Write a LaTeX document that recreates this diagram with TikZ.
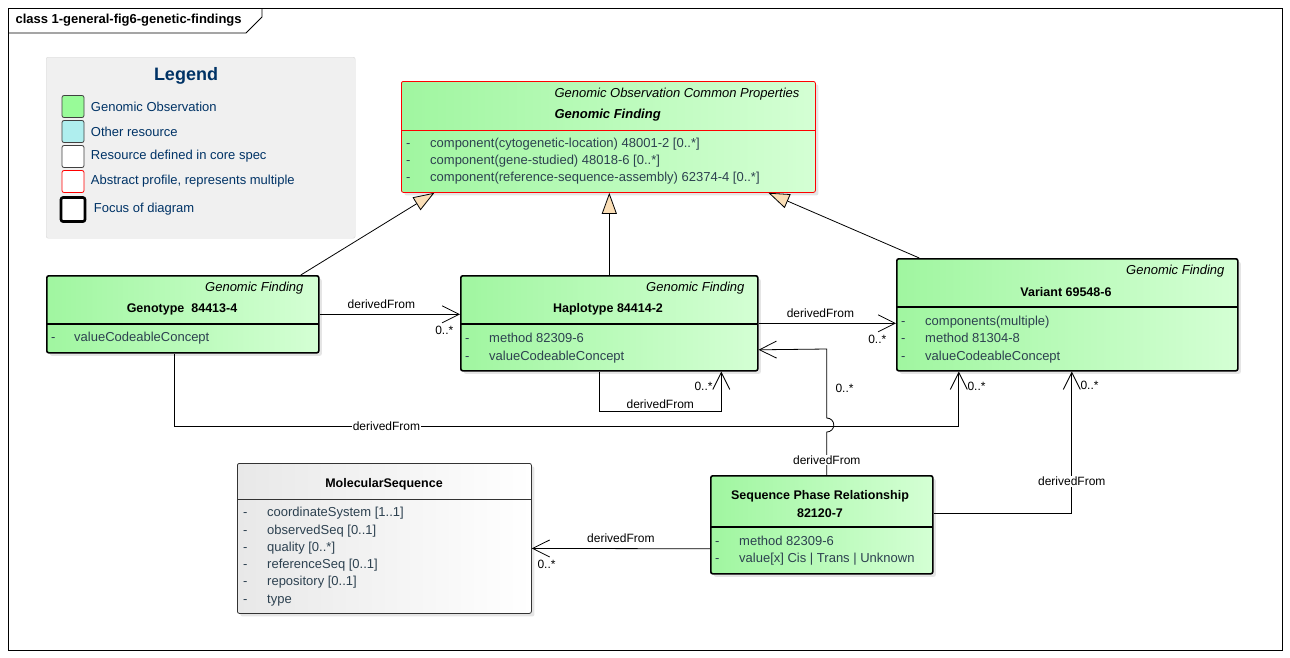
\documentclass[tikz,border=0pt]{standalone}
\usepackage{fontspec}
\setmainfont{Liberation Sans}
\usepackage{tikz}
\usetikzlibrary{arrows.meta}
\usetikzlibrary{positioning}
\usetikzlibrary{shadows}

\definecolor{findleft}{RGB}{160,246,160}
\definecolor{findright}{RGB}{212,255,212}
\definecolor{attrtext}{RGB}{45,65,80}
\definecolor{legendtext}{RGB}{0,51,102}
\definecolor{legendbg}{RGB}{240,240,240}
\definecolor{legendgreen}{RGB}{152,251,152}
\definecolor{legendcyan}{RGB}{175,238,238}
\definecolor{genfill}{RGB}{250,222,182}

\begin{document}
\begin{tikzpicture}[x=1pt,y=-1pt,font=\fontsize{12}{14}\selectfont,
        box/.style={draw,rounded corners=2pt,anchor=north west,inner sep=0pt,
            drop shadow={shadow xshift=3pt,shadow yshift=-3pt,fill=black!20}},
        finding/.style={box,line width=1.6pt,left color=findleft,right color=findright},
        stereo/.style={anchor=east,font=\fontsize{13}{15}\selectfont\itshape},
        cname/.style={font=\fontsize{12.5}{15}\selectfont\bfseries},
        attr/.style={anchor=west,inner sep=0pt,text=attrtext,text height=11.5pt,text depth=2pt,
            font=\fontsize{13}{15}\selectfont},
        derived/.style={line width=0.8pt,-{Straight Barb[length=17pt,width=17pt]}},
        general/.style={line width=0.8pt,-{Triangle[length=21pt,width=15pt,fill=genfill]}},
        legsq/.style={draw=black!75,line width=0.8pt,rounded corners=2pt,minimum size=22pt,inner sep=0pt},
        legentry/.style={text=legendtext,font=\fontsize{13}{15}\selectfont}]
    \useasboundingbox (0,0) rectangle (1290,657);
    \fill[white] (0,0) rectangle (1290,657);
    \draw[line width=0.9pt] (8,8) rectangle (1282,650);
    \draw[line width=0.9pt] (8,33) -- (246,33) -- (262,17) -- (262,8);
    \node[anchor=west,font=\fontsize{13}{15}\selectfont\bfseries] (frametitle) at (12,20) {class 1-general-fig6-genetic-findings};

    % legend
    \node[draw=black!15,fill=legendbg,rounded corners=2pt,anchor=north west,minimum width=309pt,minimum height=181pt] (legend) at (46,57) {};
    \node[text=legendtext,font=\fontsize{18}{20}\selectfont\bfseries] (legendtitle) at (186,76) {Legend};
    \foreach \f/\d/\t [count=\i] in {legendgreen/black!75/Genomic Observation,
            legendcyan/black!75/Other resource,
            white/black!75/Resource defined in core spec,
            white/red/{Abstract profile, represents multiple}} {
        \node[legsq,fill=\f,draw=\d] (leg\i) at (73,{81.5+25*\i}) {};
        \node[legentry,right=3pt of leg\i] (legtext\i) {\t};
    }
    \node[legsq,fill=white,draw=black,line width=2.6pt,minimum size=24pt] (leg5) at (73,209.5) {};
    \node[legentry,right=4pt of leg5] (legtext5) {Focus of diagram};

    % abstract profile
    \node[box,draw=red,line width=0.8pt,left color=findleft,right color=findright,minimum width=414pt,minimum height=111pt] (gfind) at (401,81) {};
    \node[anchor=west,font=\fontsize{13}{15}\selectfont\itshape] (gfstereo) at (551,94) {Genomic Observation Common Properties};
    \node[anchor=west,font=\fontsize{13}{15}\selectfont\bfseries\itshape] (gfname) at (551,115) {Genomic Finding};
    \draw[red,line width=0.8pt] (401,130) -- (815,130);
    \foreach \t [count=\i] in {component(cytogenetic-location) 48001-2 [0..*],
            component(gene-studied) 48018-6 [0..*],
            component(reference-sequence-assembly) 62374-4 [0..*]} {
        \node[attr] (gfdash\i) at (406,{126+17*\i}) {-};
        \node[attr] (gfattr\i) at (430,{126+17*\i}) {\t};
    }

    % genotype
    \node[finding,minimum width=272pt,minimum height=77pt] (geno) at (46,275) {};
    \node[stereo] (genostereo) at (307,288) {Genomic Finding};
    \node[cname] (genoname) at (182,309) {Genotype\ \ 84413-4};
    \draw[line width=1.6pt] (46,324) -- (318,324);
    \node[attr] (genodash1) at (51,337) {-};
    \node[attr] (genoattr1) at (74,337) {valueCodeableConcept};

    % haplotype
    \node[finding,minimum width=297pt,minimum height=95pt] (haplo) at (460,275) {};
    \node[stereo] (haplostereo) at (748,288) {Genomic Finding};
    \node[cname] (haploname) at (608,309) {Haplotype 84414-2};
    \draw[line width=1.6pt] (460,324) -- (757,324);
    \foreach \t [count=\i] in {method 82309-6,valueCodeableConcept} {
        \node[attr] (haplodash\i) at (465,{320+18*\i}) {-};
        \node[attr] (haploattr\i) at (489,{320+18*\i}) {\t};
    }

    % variant
    \node[finding,minimum width=341pt,minimum height=112pt] (variant) at (896,258) {};
    \node[stereo] (variantstereo) at (1228,271) {Genomic Finding};
    \node[cname] (variantname) at (1066,292) {Variant 69548-6};
    \draw[line width=1.6pt] (896,307) -- (1237,307);
    \foreach \t [count=\i] in {components(multiple),method 81304-8,valueCodeableConcept} {
        \node[attr] (variantdash\i) at (901,{303+17.5*\i}) {-};
        \node[attr] (variantattr\i) at (925,{303+17.5*\i}) {\t};
    }

    % molecular sequence
    \node[box,draw=black!80,line width=0.8pt,left color=black!9,right color=white,minimum width=294pt,minimum height=150pt] (molseq) at (237,463) {};
    \node[cname] (molseqname) at (384,484) {MolecularSequence};
    \draw[line width=0.8pt,black!80] (237,499) -- (531,499);
    \foreach \t [count=\i] in {coordinateSystem [1..1],observedSeq [0..1],quality [0..*],
            referenceSeq [0..1],repository [0..1],type} {
        \node[attr] (molseqdash\i) at (243,{494.7+17.3*\i}) {-};
        \node[attr] (molseqattr\i) at (267,{494.7+17.3*\i}) {\t};
    }

    % sequence phase relationship
    \node[finding,minimum width=222pt,minimum height=98pt] (phase) at (710,475) {};
    \node[cname] (phasename1) at (820,496) {Sequence Phase Relationship};
    \node[cname] (phasename2) at (820,513) {82120-7};
    \draw[line width=1.6pt] (710,527) -- (932,527);
    \foreach \t [count=\i] in {method 82309-6,value[x] Cis | Trans | Unknown} {
        \node[attr] (phasedash\i) at (715,{524+17*\i}) {-};
        \node[attr] (phaseattr\i) at (739,{524+17*\i}) {\t};
    }

    % generalizations
    \draw[general] ([xshift=118pt]geno.north) -- ([xshift=-174pt]gfind.south);
    \draw[general] (haplo.north) -- (haplo.north |- gfind.south);
    \draw[general] ([xshift=-148pt]variant.north) -- ([xshift=160pt]gfind.south);

    % derivedFrom
    \draw[derived] (geno.east) -- (geno.east -| haplo.west)
        node[pos=.44,above=2pt] {derivedFrom}
        node[pos=1,anchor=north east,xshift=-3pt,yshift=-8pt] {0..*};
    \draw[derived] (haplo.east) -- (haplo.east -| variant.west)
        node[pos=.45,above=2pt] {derivedFrom}
        node[pos=1,anchor=north east,xshift=-6pt,yshift=-8pt] {0..*};
    \draw[derived] ([xshift=-10pt]haplo.south) -- ++(0,40) -| ([xshift=112pt]haplo.south)
        node[pos=.25,above=-1pt] {derivedFrom}
        node[pos=.82,left=5pt] {0..*};
    \draw[derived] ([xshift=-8pt]geno.south) -- ++(0,73) -| ([xshift=-108.5pt]variant.south)
        node[pos=.135,fill=white,inner sep=1pt] {derivedFrom}
        node[pos=.87,right=5pt] {0..*};
    \draw[derived] ([xshift=5pt]phase.north) -- ++(0,-43)
        node[pos=.35,fill=white,inner sep=1pt] {derivedFrom}
        arc(-90:90:7pt) -- ++(0,-69)
        node[pos=.43,right=5pt] {0..*}
        -- ([yshift=-26.5pt]haplo.east);
    \draw[derived] ([yshift=11pt]phase.east) -| ([xshift=4.5pt]variant.south)
        node[pos=.615,fill=white,inner sep=1pt] {derivedFrom}
        node[pos=.95,right=5pt] {0..*};
    \draw[derived] ([yshift=-24pt]phase.west) -- ([yshift=-10pt]molseq.east)
        node[pos=.5,above=2pt] {derivedFrom}
        node[pos=1,anchor=north west,xshift=2pt,yshift=-8pt] {0..*};
\end{tikzpicture}
\end{document}
